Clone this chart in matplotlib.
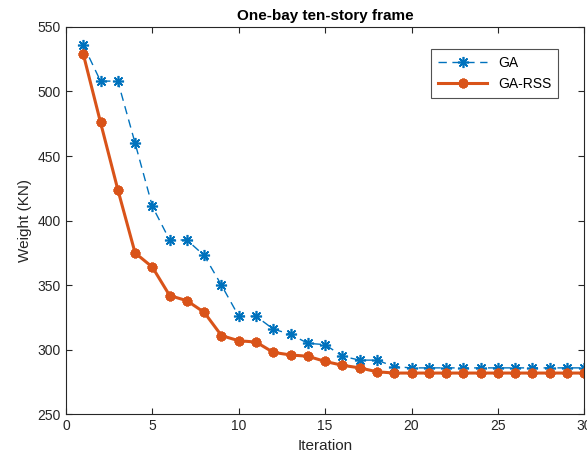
import numpy as np
import matplotlib.pyplot as plt

plt.rcParams['font.family'] = ['Liberation Sans', 'DejaVu Sans']

# Datos
iteracion = list(range(1, 31))
ga = [536, 508, 508, 460, 411, 385, 385, 373, 350, 326,
      326, 316, 312, 305, 304, 295, 292, 292, 287, 286,
      286, 286, 286, 286, 286, 286, 286, 286, 286, 286]
ga_rss = [529, 476, 424, 375, 364, 342, 338, 329, 311, 307,
          306, 298, 296, 295, 291, 288, 286, 283, 282, 282,
          282, 282, 282, 282, 282, 282, 282, 282, 282, 282]

azul = '#0072BD'
naranja = '#D95319'
gris = '#262626'
asterisco = (8, 2, 0)

fig = plt.figure(figsize=(5.87, 4.63), dpi=100)
ax = fig.add_axes([0.1124, 0.105, 0.883, 0.837])

ax.plot(iteracion, ga, color=azul, lw=1, dashes=(6, 4), marker=asterisco, ms=8, mew=1.2, label='GA')
ax.plot(iteracion, ga_rss, '-', color=naranja, lw=2.2, marker=asterisco, ms=7, mew=2.2, label='GA-RSS')

ax.set_xlim(0, 30)
ax.set_ylim(250, 550)
ax.set_xticks(np.arange(0, 31, 5))
ax.set_yticks(np.arange(250, 551, 50))
ax.tick_params(direction='in', top=True, right=True, colors=gris, labelsize=10, length=4)
for s in ax.spines.values():
    s.set_color(gris)
    s.set_linewidth(0.8)

ax.set_xlabel('Iteration', fontsize=11, color=gris)
ax.set_ylabel('Weight (KN)', fontsize=11, color=gris)
ax.set_title('One-bay ten-story frame', fontsize=11, fontweight='bold', color='black', pad=5)

leg = ax.legend(loc='upper right', bbox_to_anchor=(0.963, 0.961), fancybox=False,
                edgecolor=gris, fontsize=10, handlelength=3.5, borderpad=0.5)
leg.get_frame().set_linewidth(0.8)

fig.savefig('out.png', dpi=100)
